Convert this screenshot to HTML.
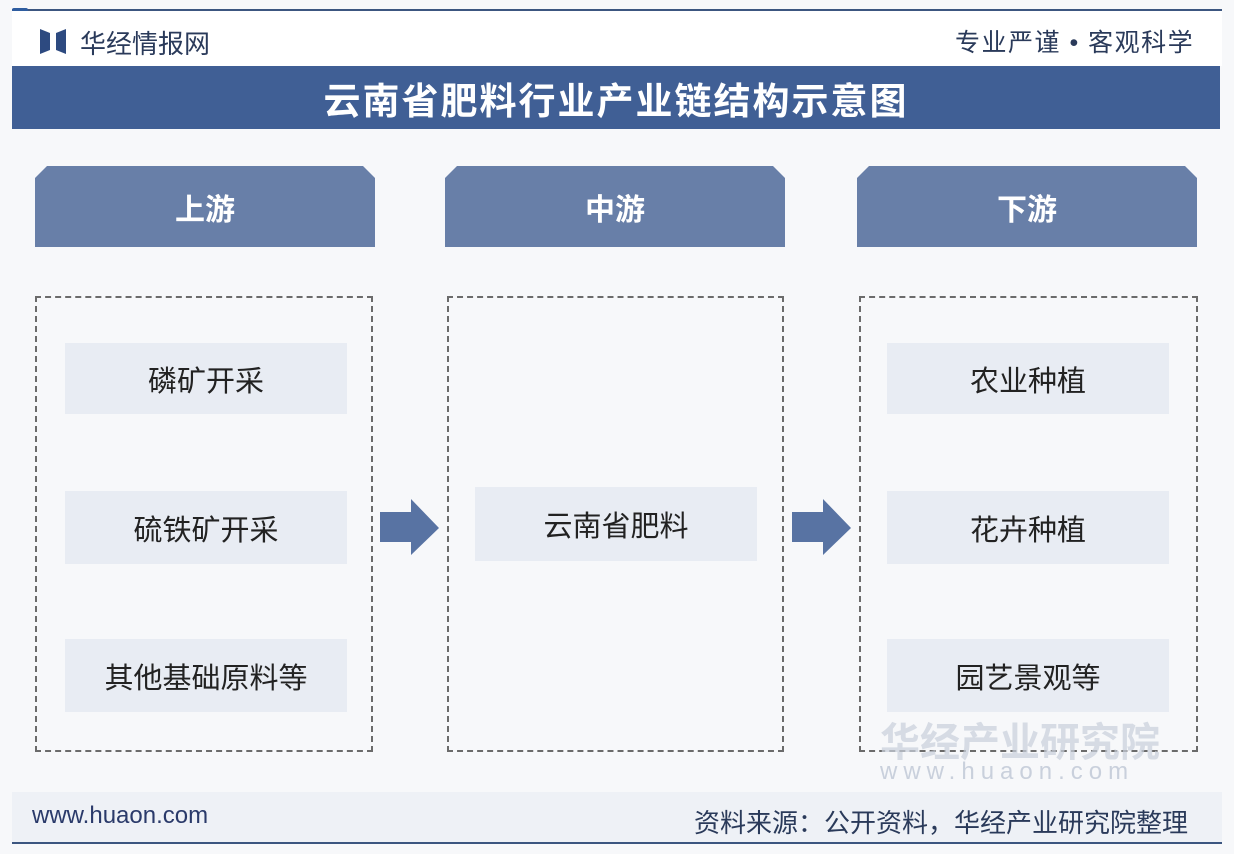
<!DOCTYPE html>
<html><head><meta charset="utf-8"><style>
*{margin:0;padding:0;box-sizing:border-box}
body{width:1234px;height:854px;background:#f7f8fa;position:relative;overflow:hidden;font-family:"Liberation Sans","Noto Sans CJK SC",sans-serif}
.a{position:absolute}
.hdr{background:#687fa8;color:#fff;font-size:30px;font-weight:bold;display:flex;align-items:center;justify-content:center;clip-path:polygon(12px 0,calc(100% - 12px) 0,100% 12px,100% 100%,0 100%,0 12px)}
.dash{border:2px dashed #6b6b6b}
.item{background:#e8ecf3;font-size:29px;color:#222;display:flex;align-items:center;justify-content:center}
</style></head><body>
<div class="a" style="left:12px;top:9px;width:1210px;height:2px;background:#3c5680"></div>
<div class="a" style="left:12px;top:8px;width:16px;height:4px;background:#2f5da0;border-radius:2px"></div>
<div class="a" style="left:12px;top:11px;width:1210px;height:55px;background:#fff"></div>
<svg class="a" style="left:40px;top:28px" width="26" height="26"><polygon points="0,1 10,5 10,22 0,26" fill="#2d4a80"/><polygon points="26,1 16,5 16,22 26,26" fill="#2d4a80"/></svg>
<div class="a" style="left:80px;top:24px;font-size:26px;color:#2a3a5a">华经情报网</div>
<div class="a" style="left:955px;top:23px;font-size:25px;color:#2a3a5a;letter-spacing:1.5px">专业严谨 • 客观科学</div>
<div class="a" style="left:12px;top:66px;width:1208px;height:63px;background:#405f95;color:#fff;font-size:37px;font-weight:bold;letter-spacing:2px;display:flex;align-items:center;justify-content:center">云南省肥料行业产业链结构示意图</div>
<div class="a hdr" style="left:35px;top:166px;width:340px;height:81px">上游</div>
<div class="a hdr" style="left:445px;top:166px;width:340px;height:81px">中游</div>
<div class="a hdr" style="left:857px;top:166px;width:340px;height:81px">下游</div>
<div class="a dash" style="left:35px;top:296px;width:338px;height:456px"></div>
<div class="a dash" style="left:447px;top:296px;width:337px;height:456px"></div>
<div class="a dash" style="left:859px;top:296px;width:339px;height:456px"></div>
<div class="a item" style="left:65px;top:343px;width:282px;height:71px">磷矿开采</div>
<div class="a item" style="left:65px;top:491px;width:282px;height:73px">硫铁矿开采</div>
<div class="a item" style="left:65px;top:639px;width:282px;height:73px">其他基础原料等</div>
<div class="a item" style="left:475px;top:487px;width:282px;height:74px">云南省肥料</div>
<div class="a item" style="left:887px;top:343px;width:282px;height:71px">农业种植</div>
<div class="a item" style="left:887px;top:491px;width:282px;height:73px">花卉种植</div>
<div class="a item" style="left:887px;top:639px;width:282px;height:73px">园艺景观等</div>
<svg class="a" style="left:380px;top:499px" width="60" height="57"><polygon points="0,13 31,13 31,0 59,29 31,56 31,43 0,43" fill="#5873a3"/></svg>
<svg class="a" style="left:792px;top:499px" width="60" height="57"><polygon points="0,13 31,13 31,0 59,29 31,56 31,43 0,43" fill="#5873a3"/></svg>
<div class="a" style="left:880px;top:710px;font-size:40px;font-weight:bold;color:#c9d0dc;opacity:.7">华经产业研究院</div>
<div class="a" style="left:880px;top:758px;font-size:24px;color:#c9d0dc;letter-spacing:6px">www.huaon.com</div>
<div class="a" style="left:12px;top:792px;width:1210px;height:50px;background:#eef1f6"></div>
<div class="a" style="left:32px;top:802px;font-size:24px;color:#2a3a6a">www.huaon.com</div>
<div class="a" style="left:694px;top:803px;font-size:26px;color:#2a3a5a">资料来源：公开资料，华经产业研究院整理</div>
<div class="a" style="left:12px;top:842px;width:1210px;height:2px;background:#3c5680"></div>
</body></html>
